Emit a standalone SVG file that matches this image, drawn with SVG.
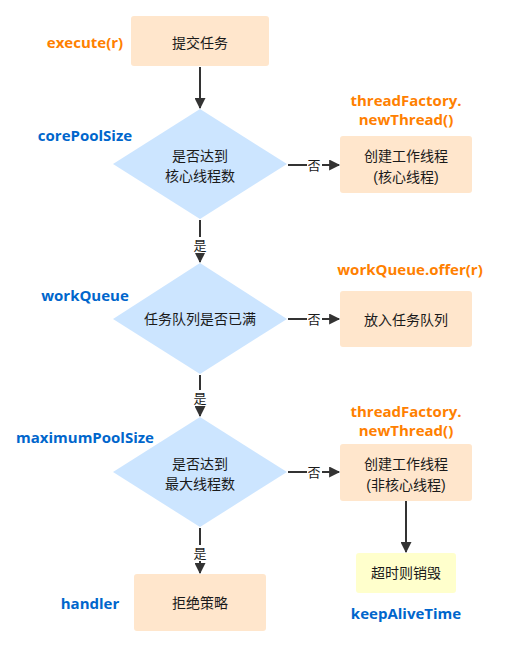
<svg xmlns="http://www.w3.org/2000/svg" width="510" height="652" viewBox="0 0 510 652">
<style>
.box{fill:#FFE6CC;stroke:none}
.dia{fill:#CCE5FF;stroke:none}
.yel{fill:#FFFFCC;stroke:none}
.t{font-family:"Liberation Sans","Noto Sans CJK SC",sans-serif;font-size:14px;fill:#1a1a1a;text-anchor:middle}
.lo{font-family:"Open Sans","Liberation Sans",sans-serif;font-size:15px;font-weight:bold;fill:#FF8000;text-anchor:middle}
.lb{font-family:"Open Sans","Liberation Sans",sans-serif;font-size:15px;font-weight:bold;fill:#0066CC;text-anchor:middle}
.e{stroke:#333;stroke-width:2;fill:none;marker-end:url(#ah)}
.el{font-family:"Liberation Sans","Noto Sans CJK SC",sans-serif;font-size:13px;fill:#1a1a1a;text-anchor:middle}
.lbg{fill:#fff}
</style>
<defs>
<marker id="ah" viewBox="0 0 10 10" refX="9" refY="5" markerWidth="6" markerHeight="5.5" orient="auto" markerUnits="strokeWidth">
<path d="M0,0 L10,5 L0,10 z" fill="#333"/>
</marker>
</defs>
<g id="connectors">
<line class="e" x1="200" y1="67" x2="200" y2="108"/>
<line class="e" x1="288" y1="165" x2="339" y2="165"/>
<line class="e" x1="200" y1="220" x2="200" y2="262"/>
<line class="e" x1="288" y1="319" x2="339" y2="319"/>
<line class="e" x1="200" y1="375" x2="200" y2="416"/>
<line class="e" x1="288" y1="472" x2="339" y2="472"/>
<line class="e" x1="200" y1="528" x2="200" y2="573"/>
<line class="e" x1="406" y1="501" x2="406" y2="552"/>
<rect class="lbg" x="307" y="157" width="15" height="16"/>
<text class="el" x="314" y="170">否</text>
<rect class="lbg" x="307" y="311" width="15" height="16"/>
<text class="el" x="314" y="324">否</text>
<rect class="lbg" x="307" y="464" width="15" height="16"/>
<text class="el" x="314" y="477">否</text>
<rect class="lbg" x="193" y="237" width="15" height="16"/>
<text class="el" x="200" y="250">是</text>
<rect class="lbg" x="193" y="390" width="15" height="16"/>
<text class="el" x="200" y="403">是</text>
<rect class="lbg" x="193" y="545" width="15" height="16"/>
<text class="el" x="200" y="558">是</text>
</g>
<g id="submit">
<rect class="box" x="131" y="16" width="138" height="50" rx="3"/>
<text class="t" x="200" y="48">提交任务</text>
<text class="lo" x="85" y="48">execute(r)</text>
</g>
<g id="core-check">
<polygon class="dia" points="200,109 287,164 200,219 113,164"/>
<text class="t" x="200" y="161">是否达到</text>
<text class="t" x="200" y="181">核心线程数</text>
<text class="lb" x="85" y="141">corePoolSize</text>
</g>
<g id="create-core">
<rect class="box" x="340" y="136" width="132" height="57" rx="3"/>
<text class="t" x="406" y="161">创建工作线程</text>
<text class="t" x="406" y="182">(核心线程)</text>
<text class="lo" x="406" y="106">threadFactory.</text>
<text class="lo" x="406" y="125">newThread()</text>
</g>
<g id="queue-check">
<polygon class="dia" points="200,263 287,319 200,374 113,319"/>
<text class="t" x="200" y="324">任务队列是否已满</text>
<text class="lb" x="85" y="301">workQueue</text>
</g>
<g id="enqueue">
<rect class="box" x="340" y="291" width="132" height="56" rx="3"/>
<text class="t" x="406" y="325">放入任务队列</text>
<text class="lo" x="410" y="275">workQueue.offer(r)</text>
</g>
<g id="max-check">
<polygon class="dia" points="200,417 287,472 200,527 113,472"/>
<text class="t" x="200" y="469">是否达到</text>
<text class="t" x="200" y="489">最大线程数</text>
<text class="lb" x="85" y="443">maximumPoolSize</text>
</g>
<g id="create-noncore">
<rect class="box" x="340" y="444" width="132" height="57" rx="3"/>
<text class="t" x="406" y="469">创建工作线程</text>
<text class="t" x="406" y="490">(非核心线程)</text>
<text class="lo" x="406" y="417">threadFactory.</text>
<text class="lo" x="406" y="436">newThread()</text>
</g>
<g id="destroy">
<rect class="yel" x="356" y="553" width="100" height="40" rx="3"/>
<text class="t" x="406" y="578">超时则销毁</text>
<text class="lb" x="406" y="619">keepAliveTime</text>
</g>
<g id="reject">
<rect class="box" x="134" y="574" width="132" height="57" rx="3"/>
<text class="t" x="200" y="608">拒绝策略</text>
<text class="lb" x="90" y="609">handler</text>
</g>
</svg>
